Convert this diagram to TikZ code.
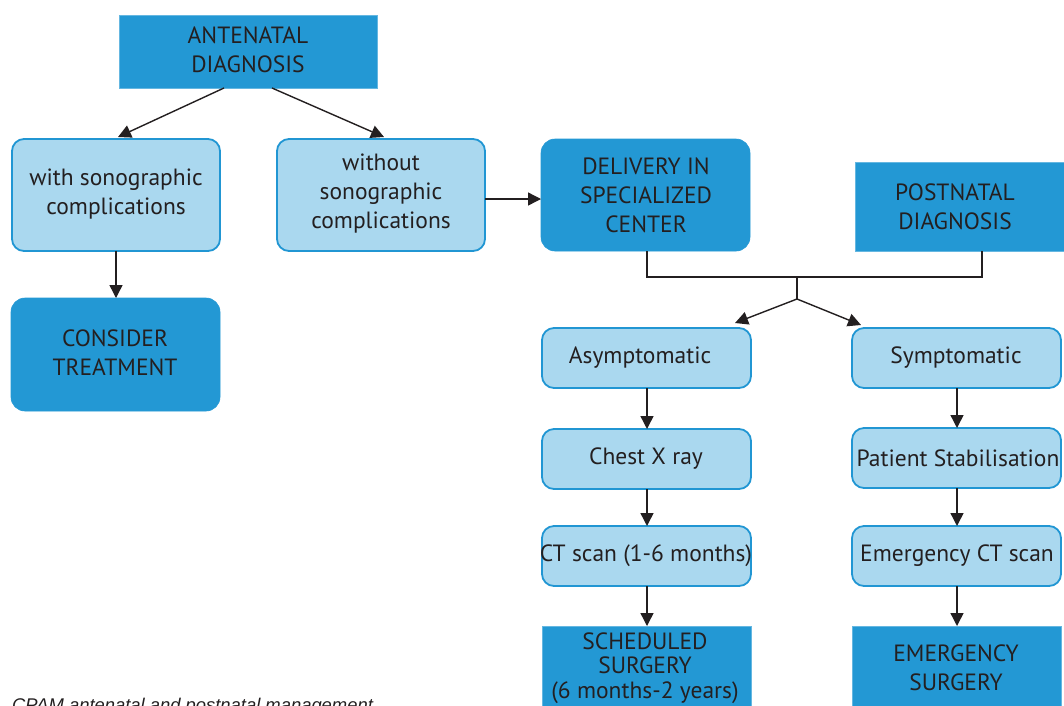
\documentclass[tikz,border=0pt]{standalone}
\usepackage{fontspec}
\setmainfont{PT Sans}
\newfontfamily\capfont{Liberation Sans}
\usetikzlibrary{arrows.meta}
\definecolor{darkbox}{HTML}{2398D4}
\definecolor{lightbox}{HTML}{AAD8EF}
\definecolor{boxline}{HTML}{2196D3}
\definecolor{txt}{HTML}{231F20}
\tikzset{
  every node/.style={font=\fontsize{23.5}{29}\selectfont, text=txt, align=center, inner sep=0pt},
  sharpbox/.style={fill=darkbox, draw=darkbox!70!white, line width=0.6pt},
  darkround/.style={fill=darkbox, draw=darkbox, line width=0.6pt, rounded corners=14pt},
  lightround/.style={fill=lightbox, draw=boxline, line width=1.8pt, rounded corners=12pt},
  conn/.style={draw=txt, line width=1.4pt},
  arr/.style={conn, -{Triangle[width=13pt,length=13pt]}}
}
\begin{document}
\begin{tikzpicture}[x=1pt,y=-1pt]
\useasboundingbox (0,0) rectangle (1064,705);
\clip (0,0) rectangle (1064,705);
% boxes
\path[sharpbox] (119,15) rectangle (377,88);
\node (ante) at (248,50) {ANTENATAL\\DIAGNOSIS};
\path[lightround] (12,139) rectangle (220,251);
\node (with) at (116,194) {with sonographic\\complications};
\path[lightround] (277,139) rectangle (485,251);
\node (without) at (381,194) {without\\sonographic\\complications};
\path[darkround] (11,298) rectangle (220,411);
\node (cons) at (115,353) {CONSIDER\\TREATMENT};
\path[darkround] (541,139) rectangle (750,251);
\node (deliv) at (646,195) {DELIVERY IN\\SPECIALIZED\\CENTER};
\path[sharpbox] (855,162) rectangle (1070,251);
\node (post) at (955,207) {POSTNATAL\\DIAGNOSIS};
\path[lightround] (542,328) rectangle (751,388);
\node (asym) at (640,358) {Asymptomatic};
\path[lightround] (852,328) rectangle (1061,388);
\node (sym) at (956,358) {Symptomatic};
\path[lightround] (542,429) rectangle (751,489);
\node (chest) at (646,459) {Chest X ray};
\path[lightround] (852,428) rectangle (1061,488);
\node (stab) at (958,458) {Patient Stabilisation};
\path[lightround] (542,526) rectangle (751,586);
\node (ct) at (646,556) {CT scan (1-6 months)};
\path[lightround] (852,526) rectangle (1061,586);
\node (ect) at (957,556) {Emergency CT scan};
\path[sharpbox] (542,626) rectangle (751,720);
\node[font=\fontsize{23.5}{24.5}\selectfont] (sched) at (645,668) {SCHEDULED\\SURGERY\\(6 months-2 years)};
\path[sharpbox] (852,626) rectangle (1061,720);
\node (emer) at (956,668) {EMERGENCY\\SURGERY};
% anchor coordinates
\coordinate (a1) at (224,88);
\coordinate (a1t) at (118,137);
\coordinate (a2) at (272,88);
\coordinate (a2t) at (384,137);
\coordinate (w1) at (116,251);
\coordinate (w2) at (116,298);
\coordinate (o1) at (485,199);
\coordinate (o2) at (541,199);
\coordinate (d1) at (647,251);
\coordinate (d2) at (647,277);
\coordinate (p1) at (982,251);
\coordinate (p2) at (982,277);
\coordinate (j1) at (797,277);
\coordinate (j2) at (797,299);
\coordinate (jl) at (735,323);
\coordinate (jr) at (861,325);
\coordinate (l1) at (647,388);
\coordinate (l2) at (647,429);
\coordinate (l3) at (647,489);
\coordinate (l4) at (647,526);
\coordinate (l5) at (647,586);
\coordinate (l6) at (647,626);
\coordinate (r1) at (957,388);
\coordinate (r2) at (957,428);
\coordinate (r3) at (957,488);
\coordinate (r4) at (957,526);
\coordinate (r5) at (957,586);
\coordinate (r6) at (957,626);
% connectors
\draw[arr] (a1) -- (a1t);
\draw[arr] (a2) -- (a2t);
\draw[arr] (w1) -- (w2);
\draw[arr] (o1) -- (o2);
\draw[conn] (d1) -- (d2) -- (p2) -- (p1);
\draw[conn] (j1) -- (j2);
\draw[arr] (j2) -- (jl);
\draw[arr] (j2) -- (jr);
\draw[arr] (l1) -- (l2);
\draw[arr] (l3) -- (l4);
\draw[arr] (l5) -- (l6);
\draw[arr] (r1) -- (r2);
\draw[arr] (r3) -- (r4);
\draw[arr] (r5) -- (r6);
% caption
\node[font=\capfont\itshape\fontsize{18.4}{20}\selectfont, anchor=base west] (cap) at (12,711) {CPAM antenatal and postnatal management};
\end{tikzpicture}
\end{document}
